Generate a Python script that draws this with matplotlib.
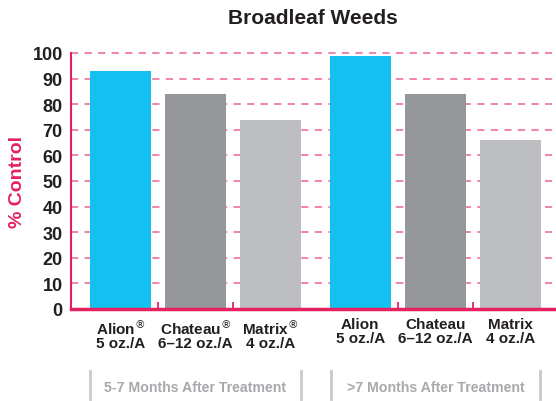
import matplotlib
matplotlib.use("Agg")
import matplotlib.pyplot as plt
from matplotlib.ticker import FixedLocator

plt.rcParams['font.family'] = ['Liberation Sans', 'DejaVu Sans']

# data
products = ["Alion$^{\u00ae}$\n5 oz./A", "Chateau$^{\u00ae}$\n6\u201312 oz./A", "Matrix$^{\u00ae}$\n4 oz./A",
            "Alion\n5 oz./A", "Chateau\n6\u201312 oz./A", "Matrix\n4 oz./A"]
control = [93, 84, 74, 99, 84, 66]
groups = ["5-7 Months After Treatment", ">7 Months After Treatment"]
y_ticks = [0, 10, 20, 30, 40, 50, 60, 70, 80, 90, 100]

pink = '#E5215F'
colors = ['#14C0F0', '#96979B', '#BDBEC2', '#14C0F0', '#96979B', '#BDBEC2']
xpos = [0, 1, 2, 3.2, 4.2, 5.2]

fig = plt.figure(figsize=(5.56, 4.02), dpi=100)
ax = fig.add_axes([0.1277, 0.2289, 0.8723, 0.6368])

for v in y_ticks[1:]:
    ax.axhline(v, color='#F07CA0', linestyle=(0, (4, 3.5)), linewidth=1.3,
               zorder=0, clip_on=False)

ax.bar(xpos, control, width=0.81, color=colors, zorder=2)

ax.set_xlim(-0.66, 5.81)
ax.set_ylim(0, 100)
ax.set_yticks(y_ticks)
ax.set_yticklabels([str(t) for t in y_ticks], fontsize=13, fontweight='bold', color='#231F20')
ax.set_xticks(xpos)
ax.set_xticklabels(products, fontsize=11, fontweight='bold', color='#231F20', linespacing=0.95)
ax.tick_params(axis='x', length=0, pad=6)
ax.tick_params(axis='y', length=0, pad=6)
ax.xaxis.set_minor_locator(FixedLocator([0.5, 1.5, 3.7, 4.7]))
ax.tick_params(axis='x', which='minor', direction='in', length=5, width=1.3, color=pink)

for s in ['top', 'right']:
    ax.spines[s].set_visible(False)
ax.spines['left'].set_color(pink)
ax.spines['left'].set_linewidth(1.5)
ax.spines['bottom'].set_color(pink)
ax.spines['bottom'].set_linewidth(2.5)

ax.set_ylabel('% Control', fontsize=14, fontweight='bold', color=pink)
ax.yaxis.set_label_coords(-0.093, 0.5)
fig.text(0.562, 0.955, 'Broadleaf Weeds', ha='center', va='center',
         fontsize=15, fontweight='bold', color='#231F20')

# group brackets
brackets = [(90, 301), (331, 540)]
for (x0, x1), g in zip(brackets, groups):
    for xx in (x0, x1):
        fig.add_artist(plt.Line2D([xx / 556, xx / 556], [1 - 400 / 402, 1 - 372 / 402],
                                  color='#C8C9CB', linewidth=2))
    fig.text((x0 + x1) / 2 / 556, 1 - 388 / 402, g, ha='center', va='center',
             fontsize=10.2, fontweight='bold', color='#A7A9AC')

fig.savefig('out.png', dpi=100)
